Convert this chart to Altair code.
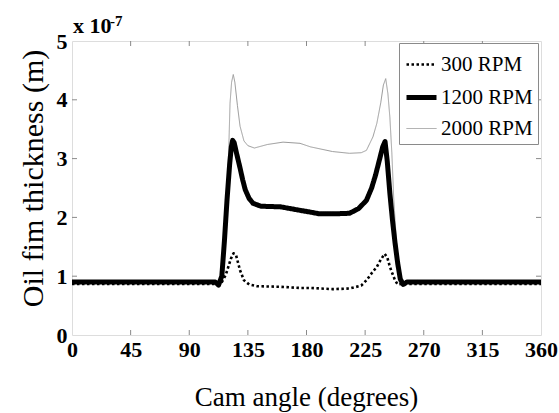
import altair as alt
import pandas as pd

# ---- data (values in units of 1e-7 m) ----
series_names = ["300 RPM", "1200 RPM", "2000 RPM"]

angle_300 = [0, 112, 115, 118, 120, 122, 124, 126, 129, 132, 136, 142, 160, 175, 183, 200,
             213, 222, 226, 230, 234, 237, 240, 242, 244, 246, 248, 250, 253, 360]
film_300 = [0.87, 0.87, 0.90, 1.02, 1.16, 1.30, 1.39, 1.35, 1.10, 0.93, 0.86, 0.83, 0.82, 0.80, 0.80, 0.78,
            0.79, 0.84, 0.93, 1.05, 1.16, 1.28, 1.38, 1.32, 1.16, 1.04, 0.93, 0.86, 0.87, 0.87]

angle_1200 = [0, 110, 112.5, 115, 117, 119, 121, 122.3, 123.3, 124.5, 126, 127.5, 129, 131, 133, 136, 139,
              145, 160, 175, 183, 190, 200, 213, 220, 226, 230, 233, 236, 238.5, 240.3, 242, 244,
              246, 248, 250, 252, 254.3, 257, 360]
film_1200 = [0.90, 0.90, 0.85, 1.00, 1.60, 2.30, 2.90, 3.20, 3.31, 3.27, 3.12, 2.98, 2.84, 2.64, 2.47, 2.32, 2.24,
             2.19, 2.18, 2.12, 2.09, 2.06, 2.06, 2.07, 2.15, 2.29, 2.50, 2.72, 2.98, 3.20, 3.29, 2.95, 2.41,
             1.95, 1.56, 1.22, 0.95, 0.86, 0.90, 0.90]

angle_2000 = [0, 110, 112.5, 115, 117, 119, 120.5, 121.3, 122.5, 123.8, 125, 127, 129, 132, 135, 140,
              150, 162, 175, 183, 200, 213, 222, 226, 231, 234, 237, 239, 240.8, 242.5, 244, 245.5,
              247, 249, 251, 252.5, 254.3, 257, 360]
film_2000 = [0.90, 0.90, 0.85, 1.00, 1.60, 2.30, 3.30, 3.94, 4.30, 4.43, 4.30, 3.90, 3.55, 3.30, 3.22, 3.18,
             3.24, 3.28, 3.26, 3.20, 3.12, 3.09, 3.10, 3.14, 3.37, 3.60, 3.95, 4.25, 4.36, 4.10, 3.70, 3.10,
             2.30, 1.60, 1.10, 0.92, 0.86, 0.90, 0.90]

x_ticks = [0, 45, 90, 135, 180, 225, 270, 315, 360]
y_ticks = [0, 1, 2, 3, 4, 5]

rows = []
for name, angs, vals in [("300 RPM", angle_300, film_300),
                         ("1200 RPM", angle_1200, film_1200),
                         ("2000 RPM", angle_2000, film_2000)]:
    for a, v in zip(angs, vals):
        rows.append({"angle": a, "film": v, "series": name})
df = pd.DataFrame(rows)

W, H = 469, 294
FONT = "Liberation Serif"
GRAY = "#8a8a8a"

x_scale = alt.Scale(domain=[0, 360], nice=False, zero=False)
y_scale = alt.Scale(domain=[0, 5], nice=False)

color_enc = alt.Color("series:N", sort=series_names,
                      scale=alt.Scale(domain=series_names, range=["#000000", "#000000", "#9a9a9a"]),
                      legend=alt.Legend(title=None, orient="none", legendX=327, legendY=2,
                                        symbolType="stroke", symbolSize=900,
                                        labelFont=FONT, labelFontSize=21, labelColor="black",
                                        labelOffset=2, rowPadding=5, padding=5,
                                        fillColor="white", strokeColor=GRAY,
                                        labelLimit=200))
dash_enc = alt.StrokeDash("series:N", sort=series_names,
                          scale=alt.Scale(domain=series_names, range=[[2.5, 2.5], [1, 0], [1, 0]]),
                          legend=alt.Legend(title=None))
width_enc = alt.StrokeWidth("series:N", sort=series_names,
                            scale=alt.Scale(type="ordinal", domain=series_names, range=[2.6, 5, 1]),
                            legend=alt.Legend(title=None))

x_enc = alt.X("angle:Q", scale=x_scale,
              axis=alt.Axis(values=x_ticks, title="Cam angle (degrees)", grid=False, domain=False,
                            ticks=False, labelPadding=4, labelFont=FONT, labelFontSize=22,
                            labelFontWeight="bold", labelColor="black", labelFlush=False,
                            format="d",
                            titleFont=FONT, titleFontSize=27, titleFontWeight="normal",
                            titleColor="black", titleX=234, titleY=70, titleBaseline="alphabetic",
                            titleAnchor="middle"))
y_enc = alt.Y("film:Q", scale=y_scale,
              axis=alt.Axis(values=y_ticks, title="Oil fim thickness (m)", grid=False, domain=False,
                            ticks=False, labelPadding=5, labelFont=FONT, labelFontSize=22,
                            labelFontWeight="bold", labelColor="black", labelFlush=False,
                            format="d",
                            titleFont=FONT, titleFontSize=30, titleFontWeight="normal",
                            titleColor="black", titleX=-30, titleY=137, titleAngle=270,
                            titleAlign="center", titleBaseline="alphabetic"))


def line_layer(name):
    return alt.Chart(df).transform_filter(alt.datum.series == name).mark_line(
        strokeCap="butt", strokeJoin="round").encode(
        x=x_enc, y=y_enc, color=color_enc, strokeDash=dash_enc, strokeWidth=width_enc,
        order="angle:Q")


lines = [line_layer("2000 RPM"), line_layer("1200 RPM"), line_layer("300 RPM")]

xt = pd.DataFrame({"t": x_ticks[1:-1]})
yt = pd.DataFrame({"t": y_ticks[1:-1]})
tick_style = dict(color=GRAY, strokeWidth=1)
ticks = [
    alt.Chart(xt).mark_rule(**tick_style).encode(x=alt.X("t:Q", scale=x_scale), y=alt.value(H), y2=alt.value(H - 5)),
    alt.Chart(xt).mark_rule(**tick_style).encode(x=alt.X("t:Q", scale=x_scale), y=alt.value(0), y2=alt.value(5)),
    alt.Chart(yt).mark_rule(**tick_style).encode(y=alt.Y("t:Q", scale=y_scale), x=alt.value(0), x2=alt.value(5)),
    alt.Chart(yt).mark_rule(**tick_style).encode(y=alt.Y("t:Q", scale=y_scale), x=alt.value(W), x2=alt.value(W - 5)),
]

exp_main = alt.Chart(pd.DataFrame({"t": ["x 10"]})).mark_text(
    font=FONT, fontSize=22, fontWeight="bold", align="left", baseline="alphabetic", color="black"
).encode(text="t:N", x=alt.value(1), y=alt.value(-8))
exp_sup = alt.Chart(pd.DataFrame({"t": ["-7"]})).mark_text(
    font=FONT, fontSize=15, fontWeight="bold", align="left", baseline="alphabetic", color="black"
).encode(text="t:N", x=alt.value(38), y=alt.value(-15))

chart = alt.layer(*lines, *ticks, exp_main, exp_sup).properties(
    width=W, height=H,
    autosize=alt.AutoSizeParams(type="none"),
    padding={"left": 72, "top": 41, "right": 18, "bottom": 78},
).configure_view(stroke=GRAY, strokeWidth=1).configure(background="white")

chart.save("out.html", embed_options={"renderer": "svg", "actions": False})
